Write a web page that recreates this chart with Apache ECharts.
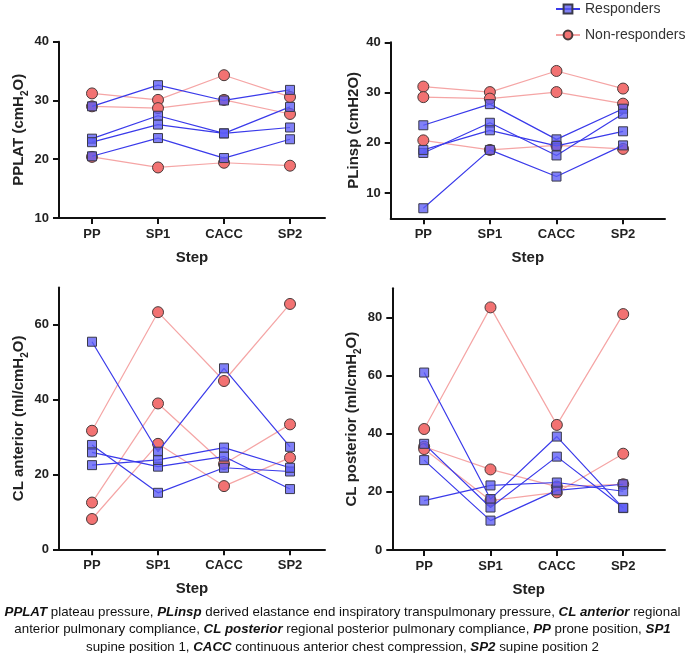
<!DOCTYPE html>
<html>
<head>
<meta charset="utf-8">
<script src="https://cdn.jsdelivr.net/npm/echarts@6/dist/echarts.min.js"></script>
<style>
html,body{margin:0;padding:0;background:#fff;}
#chart{width:685px;height:653px;}
</style>
</head>
<body>
<div id="chart"></div>
<script>
// ---------------- data ----------------
const steps = ['PP', 'SP1', 'CACC', 'SP2'];

const pplatResp = [
  [29.0, 32.6, 30.0, 31.8],
  [23.5, 27.4, 24.4, 28.9],
  [22.9, 25.9, 24.4, 25.4],
  [20.5, 23.6, 20.2, 23.4]
];
const pplatNon = [
  [31.2, 30.1, 34.3, 30.6],
  [29.0, 28.7, 30.1, 27.7],
  [20.4, 18.6, 19.4, 18.9]
];

const plinspResp = [
  [23.5, 27.7, 20.7, 26.8],
  [18.0, 24.0, 17.5, 25.8],
  [18.6, 22.5, 19.4, 22.3],
  [7.0, 18.6, 13.3, 19.5]
];
const plinspNon = [
  [31.2, 30.1, 34.3, 30.8],
  [29.1, 28.8, 30.1, 27.8],
  [20.5, 18.6, 19.5, 18.8]
];

const clAntResp = [
  [55.5, 26.1, 48.4, 27.4],
  [27.9, 15.1, 21.8, 20.8],
  [25.9, 22.1, 24.8, 16.1],
  [22.5, 23.9, 27.2, 21.8]
];
const clAntNon = [
  [31.7, 63.4, 45.0, 65.6],
  [12.5, 39.0, 22.8, 33.4],
  [8.1, 28.2, 16.9, 24.5]
];

const clPostResp = [
  [61.0, 17.5, 39.0, 14.4],
  [36.5, 14.6, 32.1, 14.5],
  [30.9, 10.1, 20.5, 22.6],
  [17.0, 22.2, 23.2, 20.2]
];
const clPostNon = [
  [41.6, 83.4, 43.0, 81.1],
  [35.5, 27.7, 21.8, 22.6],
  [34.7, 17.0, 19.8, 33.1]
];

const yNames = [
  '{a|PPLAT (cmH}{s|2}{a|O)}',
  '{a|PLinsp (cmH2O)}',
  '{a|CL anterior (ml/cmH}{s|2}{a|O)}',
  '{a|CL posterior (ml/cmH}{s|2}{a|O)}'
];
const yTicks = [
  [10, 20, 30, 40],
  [10, 20, 30, 40],
  [0, 20, 40, 60],
  [0, 20, 40, 60, 80]
];
const yRange = [[10, 40], [5, 40], [0, 70], [0, 90]];

// ---------------- layout ----------------
const FONT = '"Liberation Sans", Arial, sans-serif';
const grids = [
  {left: 59, top: 41.7, width: 266, height: 176.3},
  {left: 390.7, top: 42.3, width: 274.3, height: 176},
  {left: 59, top: 287.5, width: 266, height: 261.8},
  {left: 392.3, top: 288.2, width: 272.7, height: 261.8}
];
const xRange = [[-0.5, 3.53], [-0.49, 3.63], [-0.5, 3.53], [-0.48, 3.63]];
const nameGaps = [29, 26, 29, 29];

const panels = [
  [pplatResp, pplatNon],
  [plinspResp, plinspNon],
  [clAntResp, clAntNon],
  [clPostResp, clPostNon]
];

const axisLineStyle = {color: '#111', width: 2};

const xAxes = grids.map((g, i) => ({
  type: 'value',
  gridIndex: i,
  min: xRange[i][0],
  max: xRange[i][1],
  splitLine: {show: false},
  axisLine: {show: true, onZero: false, lineStyle: axisLineStyle},
  axisTick: {show: true, length: 6, lineStyle: {color: '#111', width: 2}, customValues: [0, 1, 2, 3]},
  axisLabel: {
    customValues: [0, 1, 2, 3],
    formatter: v => steps[Math.round(v)],
    fontFamily: FONT, fontWeight: 'bold', fontSize: 13, color: '#222', margin: 10
  },
  name: 'Step',
  nameLocation: 'middle',
  nameGap: 32,
  nameTextStyle: {fontFamily: FONT, fontWeight: 'bold', fontSize: 15, color: '#222'}
}));

const yAxes = grids.map((g, i) => ({
  type: 'value',
  gridIndex: i,
  min: yRange[i][0],
  max: yRange[i][1],
  splitLine: {show: false},
  axisLine: {show: true, onZero: false, lineStyle: axisLineStyle},
  axisTick: {show: true, length: 6, lineStyle: {color: '#111', width: 2}, customValues: yTicks[i]},
  axisLabel: {
    customValues: yTicks[i],
    fontFamily: FONT, fontWeight: 'bold', fontSize: 13, color: '#222', margin: 10
  },
  name: yNames[i],
  nameLocation: 'middle',
  nameGap: nameGaps[i],
  nameRotate: 90,
  nameTextStyle: {
    fontFamily: FONT, fontWeight: 'bold', fontSize: 15, color: '#222',
    rich: {
      a: {fontFamily: FONT, fontWeight: 'bold', fontSize: 15, color: '#222', lineHeight: 22, verticalAlign: 'middle'},
      s: {fontFamily: FONT, fontWeight: 'bold', fontSize: 10, color: '#222', lineHeight: 22, verticalAlign: 'bottom'}
    }
  }
}));

const respStyle = {
  name: 'Responders',
  symbol: 'rect',
  symbolSize: 9,
  lineStyle: {color: '#3a3aea', width: 1.2},
  itemStyle: {color: 'rgba(92,92,245,0.78)', borderColor: '#3a3a4a', borderWidth: 1}
};
const nonStyle = {
  name: 'Non-responders',
  symbol: 'circle',
  symbolSize: 11,
  lineStyle: {color: '#f5a5a5', width: 1.2},
  itemStyle: {color: '#f27272', borderColor: '#4a3a3a', borderWidth: 1}
};

const series = [];
panels.forEach((pair, p) => {
  const [resp, non] = pair;
  non.forEach(arr => {
    series.push(Object.assign({}, nonStyle, {
      type: 'line', xAxisIndex: p, yAxisIndex: p, animation: false, z: 2,
      data: arr.map((v, k) => [k, v])
    }));
  });
  resp.forEach(arr => {
    series.push(Object.assign({}, respStyle, {
      type: 'line', xAxisIndex: p, yAxisIndex: p, animation: false, z: 3,
      data: arr.map((v, k) => [k, v])
    }));
  });
});

const captionLines = [
  '{b|PPLAT} plateau pressure, {b|PLinsp} derived elastance end inspiratory transpulmonary pressure, {b|CL anterior} regional',
  'anterior pulmonary compliance, {b|CL posterior} regional posterior pulmonary compliance, {b|PP} prone position, {b|SP1}',
  'supine position 1, {b|CACC} continuous anterior chest compression, {b|SP2} supine position 2'
];
const captionY = [612, 629.5, 647];

const graphic = captionLines.map((t, i) => ({
  type: 'text',
  x: 342.5,
  y: captionY[i],
  style: {
    text: t,
    fontFamily: FONT,
    fontSize: 13.3,
    fill: '#111',
    align: 'center',
    verticalAlign: 'middle',
    rich: {
      b: {fontFamily: FONT, fontSize: 13.3, fontWeight: 'bold', fontStyle: 'italic', fill: '#111'}
    }
  }
}));

const chart = echarts.init(document.getElementById('chart'), null, {renderer: 'canvas'});
chart.setOption({
  animation: false,
  backgroundColor: '#fff',
  textStyle: {fontFamily: FONT},
  grid: grids.map(g => Object.assign({containLabel: false}, g)),
  xAxis: xAxes,
  yAxis: yAxes,
  legend: {
    orient: 'vertical',
    left: 550,
    top: -3,
    itemWidth: 24,
    itemHeight: 11,
    itemGap: 12,
    data: ['Responders', 'Non-responders'],
    textStyle: {fontFamily: FONT, fontSize: 14, color: '#333'}
  },
  series: series,
  graphic: graphic
});
</script>
</body>
</html>
